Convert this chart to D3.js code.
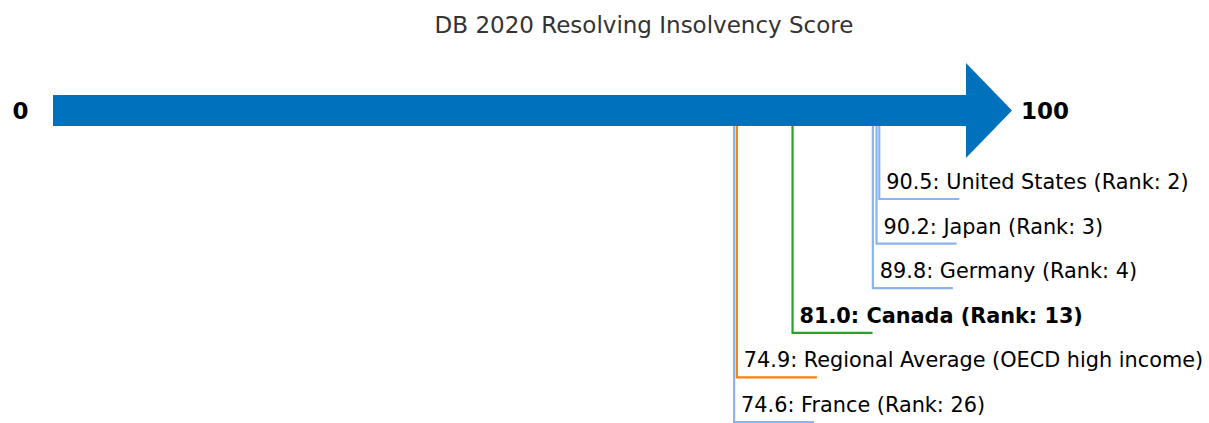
<!DOCTYPE html>
<html><head><meta charset="utf-8">
<script src="https://cdn.jsdelivr.net/npm/d3@7"></script>
<style>body{margin:0;background:#fff}svg{display:block}</style>
</head><body>
<svg id="c" width="1209" height="423"></svg>
<script>
const title = "DB 2020 Resolving Insolvency Score";
const names = ["United States (Rank: 2)", "Japan (Rank: 3)", "Germany (Rank: 4)", "Canada (Rank: 13)", "Regional Average (OECD high income)", "France (Rank: 26)"];
const values = [90.5, 90.2, 89.8, 81.0, 74.9, 74.6];
const kinds = ["peer", "peer", "peer", "focus", "region", "peer"];
const domainEnds = [0, 100];

const colors = {peer: "#8ab4f0", focus: "#2ca02c", region: "#ff7f0e"};
const svg = d3.select("#c");
const font = "DejaVu Sans, sans-serif";

const x = d3.scaleLinear().domain(domainEnds).range([53, 966]);
const y = d3.scalePoint().domain(names).range([199, 422]);

const barTop = 95, barBot = 126, barMid = (barTop + barBot) / 2;

svg.append("text").attr("x", 644).attr("y", 33).attr("text-anchor", "middle")
  .attr("font-family", font).attr("font-size", 23).attr("fill", "#333").text(title);

const g = svg.append("g");
const order = d3.range(names.length).reverse();
order.forEach(i => {
  const xv = x(values[i]), yv = y(names[i]);
  g.append("path")
    .attr("d", `M${xv},${barBot} V${yv} H${xv + 80}`)
    .attr("fill", "none").attr("stroke", colors[kinds[i]]).attr("stroke-width", 2.2);
  g.append("text").attr("x", xv + 7).attr("y", yv - 10)
    .attr("font-family", font).attr("font-size", 20.8)
    .attr("font-weight", kinds[i] === "focus" ? "bold" : "normal")
    .attr("fill", "#000")
    .text(d3.format(".1f")(values[i]) + ": " + names[i]);
});

const x0 = x(domainEnds[0]), x1 = x(domainEnds[1]);
svg.append("path")
  .attr("d", `M${x0},${barTop} H${x1} V63 L1012,${barMid} L${x1},158 V${barBot} H${x0} Z`)
  .attr("fill", "#0071bd");

svg.append("text").attr("x", 20.5).attr("y", barMid).attr("dy", "0.35em").attr("text-anchor", "middle")
  .attr("font-family", font).attr("font-size", 23).attr("font-weight", "bold").text(domainEnds[0]);
svg.append("text").attr("x", 1021).attr("y", barMid).attr("dy", "0.35em")
  .attr("font-family", font).attr("font-size", 23).attr("font-weight", "bold").text(domainEnds[1]);
</script>
</body></html>
